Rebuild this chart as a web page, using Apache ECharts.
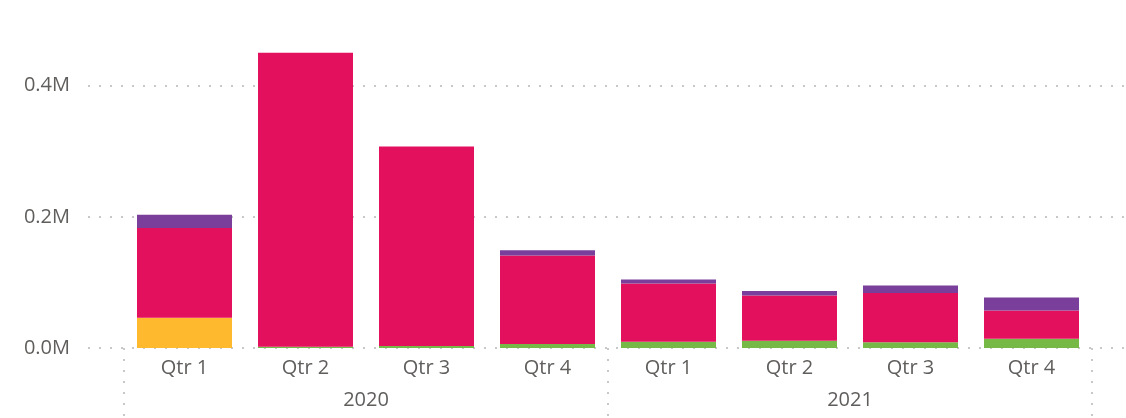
<!DOCTYPE html>
<html>
<head>
<meta charset="utf-8">
<script src="https://cdn.jsdelivr.net/npm/echarts@6/dist/echarts.min.js"></script>
<style>
  html, body { margin: 0; padding: 0; background: #fff; }
  #chart { width: 1126px; height: 418px; }
</style>
</head>
<body>
<div id="chart"></div>
<script>
// quarters per year, years in order
const quarters = ["Qtr 1", "Qtr 2", "Qtr 3", "Qtr 4", "Qtr 1", "Qtr 2", "Qtr 3", "Qtr 4"];
const years = ["2020", "2021"];

// stacked values, bottom to top
const yellowValues = [46000, 0, 0, 0, 0, 0, 0, 0];
const greenValues = [0, 2000, 3000, 6000, 9500, 11000, 8700, 14000];
const redValues = [137000, 448000, 304000, 135000, 89000, 69000, 75000, 43000];
const purpleValues = [20000, 0, 0, 8000, 6000, 7000, 11500, 20000];

const dotted = { color: "#c8c8c8", width: 2, type: [2, 9] };
const labelFont = { color: "#605E5C", fontSize: 20, fontFamily: "Open Sans" };

function bar(name, data, color) {
  return {
    name: name,
    type: "bar",
    stack: "total",
    xAxisIndex: 0,
    yAxisIndex: 0,
    barWidth: 95,
    data: data,
    itemStyle: { color: color },
  };
}

let myChart = echarts.init(document.getElementById("chart"));
myChart.setOption({
  animation: false,
  grid: [
    { left: 124, right: 34, top: 20, bottom: 70 },
    { left: 88, right: 0, top: 20, bottom: 70 },
  ],
  xAxis: [
    {
      type: "category",
      gridIndex: 0,
      data: quarters,
      axisLine: { show: false },
      axisTick: { show: false },
      axisLabel: Object.assign({ margin: 10 }, labelFont),
    },
    {
      type: "category",
      gridIndex: 0,
      position: "bottom",
      data: years,
      axisLine: { show: false },
      axisTick: { show: true, length: 70, interval: 0, lineStyle: dotted },
      axisLabel: Object.assign({ margin: 42 }, labelFont),
    },
    { type: "value", gridIndex: 1, show: false },
  ],
  yAxis: [
    { type: "value", gridIndex: 0, min: 0, max: 500000, show: false },
    {
      type: "value",
      gridIndex: 1,
      min: 0,
      max: 500000,
      interval: 200000,
      axisLine: { show: false },
      axisTick: { show: false },
      splitLine: { show: true, showMaxLine: false, lineStyle: dotted },
      axisLabel: Object.assign(
        {
          margin: 18,
          showMaxLabel: false,
          formatter: (v) => (v / 1e6).toFixed(1) + "M",
        },
        labelFont
      ),
    },
  ],
  series: [
    bar("yellow", yellowValues, "#FFB92F"),
    bar("green", greenValues, "#76B947"),
    bar("red", redValues, "#E3105E"),
    bar("purple", purpleValues, "#7A3F9A"),
  ],
});
</script>
</body>
</html>
